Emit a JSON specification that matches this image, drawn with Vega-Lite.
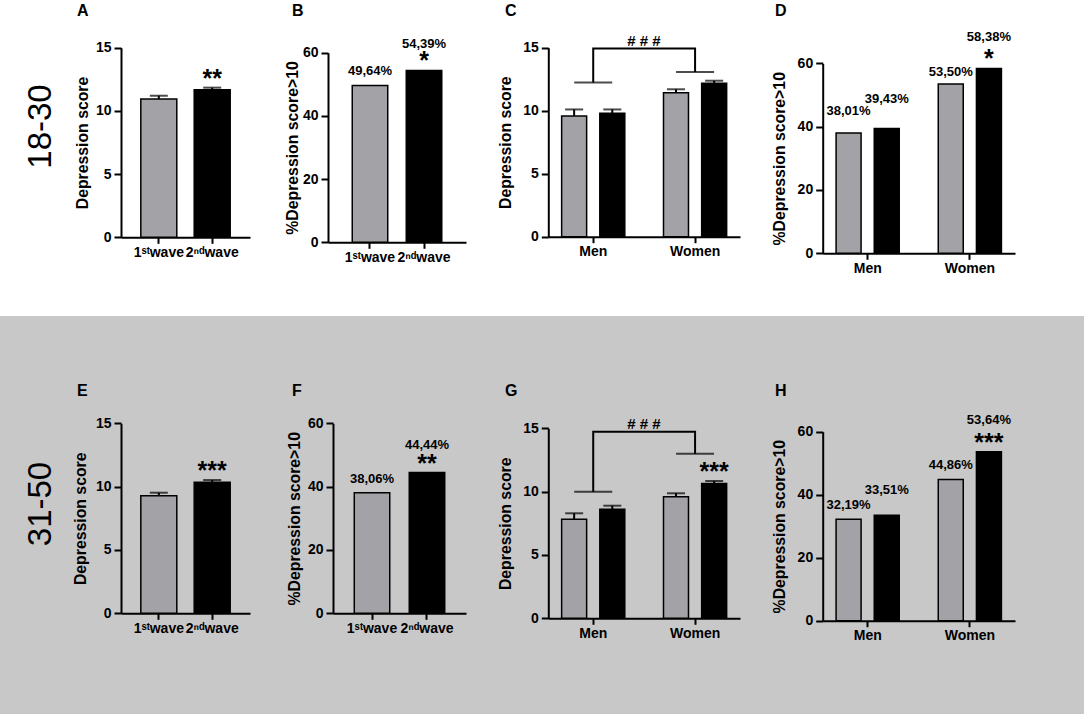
{
"$schema": "https://vega.github.io/schema/vega-lite/v6.json",
"padding": 0,
"background": "white",
"spacing": 0,
"vconcat": [
 {"spacing": 0, "bounds": "flush", "hconcat": [
  {"width": 81, "height": 316, "data": {"values": [{"age": "18-30"}]},
   "mark": {"type": "text", "angle": 270, "fontSize": 33, "font": "Liberation Sans", "fontWeight": "normal", "color": "#000", "align": "center", "baseline": "middle", "dx": 31.5},
   "encoding": {"text": {"field": "age"}}},
  {"width": 189, "height": 316, "title": {"text": "A", "offset": -19, "frame": "group", "dx": -4},
   "data": {"values": [
    {"wave": "1ˢᵗwave", "mean": 10.94, "upper": 11.2, "star": ""},
    {"wave": "2ⁿᵈwave", "mean": 11.68, "upper": 11.84, "star": "**"}
   ]},
   "encoding": {"x": {"field": "wave", "type": "nominal", "title": null, "scale": {"domain": ["1ˢᵗwave", "2ⁿᵈwave"], "range": [40, 169], "paddingInner": 0.326, "paddingOuter": 0.371}, "axis": {"offset": -78.7}}},
   "layer": [
    {"mark": {"type": "bar", "stroke": "#000", "strokeWidth": 1.5},
     "encoding": {"y": {"field": "mean", "type": "quantitative", "title": "Depression score", "scale": {"domain": [0, 15], "nice": false, "range": [237.3, 47.7]}, "axis": {"values": [0, 5, 10, 15], "titlePadding": 5, "offset": -40}},
      "fill": {"field": "wave", "type": "nominal", "scale": {"domain": ["1ˢᵗwave", "2ⁿᵈwave"], "range": ["#a3a2a7", "#000000"]}, "legend": null}}},
    {"mark": {"type": "rule", "color": "#000", "strokeWidth": 2},
     "encoding": {"y": {"field": "mean", "type": "quantitative", "title": "Depression score"}, "y2": {"field": "upper"}}},
    {"mark": {"type": "tick", "orient": "horizontal", "size": 18, "thickness": 2, "color": "#000"},
     "encoding": {"y": {"field": "upper", "type": "quantitative", "title": "Depression score"}}},
    {"mark": {"type": "text", "fontSize": 25, "fontWeight": "bold", "baseline": "alphabetic", "dy": -1, "color": "#000"},
     "encoding": {"y": {"field": "upper", "type": "quantitative", "title": "Depression score"}, "text": {"field": "star"}}}
   ]},
  {"width": 258, "height": 316, "title": {"text": "B", "offset": -19, "frame": "group", "dx": 22},
   "data": {"values": [
    {"wave": "1ˢᵗwave", "pct": 49.64, "label": "49,64%", "star": ""},
    {"wave": "2ⁿᵈwave", "pct": 54.39, "label": "54,39%", "star": "*"}
   ]},
   "encoding": {"x": {"field": "wave", "type": "nominal", "title": null, "scale": {"domain": ["1ˢᵗwave", "2ⁿᵈwave"], "range": [58, 196], "paddingInner": 0.343, "paddingOuter": 0.449}, "axis": {"offset": -73.7}}},
   "layer": [
    {"mark": {"type": "bar", "stroke": "#000", "strokeWidth": 1.5},
     "encoding": {"y": {"field": "pct", "type": "quantitative", "title": "%Depression score>10", "scale": {"domain": [0, 60], "nice": false, "range": [242.3, 52.7]}, "axis": {"values": [0, 20, 40, 60], "titlePadding": 2, "offset": -58}},
      "fill": {"field": "wave", "type": "nominal", "scale": {"domain": ["1ˢᵗwave", "2ⁿᵈwave"], "range": ["#a3a2a7", "#000000"]}, "legend": null}}},
    {"transform": [{"filter": "datum.star == ''"}],
     "mark": {"type": "text", "fontSize": 13, "fontWeight": "bold", "baseline": "alphabetic", "dy": -10, "color": "#000"},
     "encoding": {"y": {"field": "pct", "type": "quantitative", "title": "%Depression score>10"}, "text": {"field": "label"}}},
    {"transform": [{"filter": "datum.star != ''"}],
     "mark": {"type": "text", "fontSize": 13, "fontWeight": "bold", "baseline": "alphabetic", "dy": -22, "color": "#000"},
     "encoding": {"y": {"field": "pct", "type": "quantitative", "title": "%Depression score>10"}, "text": {"field": "label"}}},
    {"mark": {"type": "text", "fontSize": 25, "fontWeight": "bold", "baseline": "alphabetic", "dy": -1, "color": "#000"},
     "encoding": {"y": {"field": "pct", "type": "quantitative", "title": "%Depression score>10"}, "text": {"field": "star"}}}
   ]},
  {"width": 232, "height": 316, "title": {"text": "C", "offset": -19, "frame": "group", "dx": -23},
   "layer": [
    {"data": {"values": [
      {"sex": "Men", "wave": "1ˢᵗwave", "mean": 9.58, "upper": 10.1, "star": ""},
      {"sex": "Men", "wave": "2ⁿᵈwave", "mean": 9.79, "upper": 10.1, "star": ""},
      {"sex": "Women", "wave": "1ˢᵗwave", "mean": 11.43, "upper": 11.7, "star": ""},
      {"sex": "Women", "wave": "2ⁿᵈwave", "mean": 12.17, "upper": 12.38, "star": ""}
     ]},
     "encoding": {
      "x": {"field": "sex", "type": "nominal", "title": null, "scale": {"domain": ["Men", "Women"], "range": [20.3, 212], "paddingInner": 0.38, "paddingOuter": 0.131}, "axis": {"offset": -79.3}},
      "xOffset": {"field": "wave", "type": "nominal", "scale": {"domain": ["1ˢᵗwave", "2ⁿᵈwave"], "paddingInner": 0.345, "paddingOuter": 0}}
     },
     "layer": [
      {"mark": {"type": "bar", "stroke": "#000", "strokeWidth": 1.5},
       "encoding": {"y": {"field": "mean", "type": "quantitative", "title": "Depression score", "scale": {"domain": [0, 15], "nice": false, "range": [236.7, 47.7]}, "axis": {"values": [0, 5, 10, 15], "titlePadding": 9, "offset": -20.3}},
        "fill": {"field": "wave", "type": "nominal", "scale": {"domain": ["1ˢᵗwave", "2ⁿᵈwave"], "range": ["#a3a2a7", "#000000"]}, "legend": null}}},
      {"mark": {"type": "rule", "color": "#000", "strokeWidth": 2},
       "encoding": {"y": {"field": "mean", "type": "quantitative", "title": "Depression score"}, "y2": {"field": "upper"}}},
      {"mark": {"type": "tick", "orient": "horizontal", "size": 18, "thickness": 2, "color": "#000"},
       "encoding": {"y": {"field": "upper", "type": "quantitative", "title": "Depression score"}}}
     ]},
    {"data": {"values": [
      {"sex": "Men", "y": 12.23, "o": 1, "sig": ""},
      {"sex": "Men", "y": 14.93, "o": 2, "sig": "# # #"},
      {"sex": "Women", "y": 14.93, "o": 3, "sig": ""},
      {"sex": "Women", "y": 13.07, "o": 4, "sig": ""}
     ]},
     "layer": [
      {"mark": {"type": "line", "color": "#000", "strokeWidth": 2},
       "encoding": {"x": {"field": "sex", "type": "nominal", "title": null},
        "y": {"field": "y", "type": "quantitative", "title": "Depression score"}, "order": {"field": "o"}}},
      {"transform": [{"filter": "datum.o == 1 || datum.o == 4"}],
       "mark": {"type": "tick", "orient": "horizontal", "size": 38, "thickness": 2, "color": "#000"},
       "encoding": {"x": {"field": "sex", "type": "nominal", "title": null},
        "y": {"field": "y", "type": "quantitative", "title": "Depression score"}}},
      {"transform": [{"filter": "datum.o == 2"}],
       "mark": {"type": "text", "fontSize": 15, "fontWeight": "bold", "baseline": "alphabetic", "dy": -3, "color": "#000"},
       "encoding": {"y": {"field": "y", "type": "quantitative", "title": "Depression score"}, "text": {"field": "sig"}}}
     ]}
   ]},
  {"width": 324, "height": 316, "title": {"text": "D", "offset": -19, "frame": "group", "dx": 15},
   "data": {"values": [
    {"sex": "Men", "wave": "1ˢᵗwave", "pct": 38.01, "label": "38,01%", "star": ""},
    {"sex": "Men", "wave": "2ⁿᵈwave", "pct": 39.43, "label": "39,43%", "star": ""},
    {"sex": "Women", "wave": "1ˢᵗwave", "pct": 53.5, "label": "53,50%", "star": ""},
    {"sex": "Women", "wave": "2ⁿᵈwave", "pct": 58.38, "label": "58,38%", "star": "*"}
   ]},
   "encoding": {
    "x": {"field": "sex", "type": "nominal", "title": null, "scale": {"domain": ["Men", "Women"], "range": [62.7, 255], "paddingInner": 0.38, "paddingOuter": 0.131}, "axis": {"offset": -62.7}},
    "xOffset": {"field": "wave", "type": "nominal", "scale": {"domain": ["1ˢᵗwave", "2ⁿᵈwave"], "paddingInner": 0.345, "paddingOuter": 0}}
   },
   "layer": [
    {"mark": {"type": "bar", "stroke": "#000", "strokeWidth": 1.5},
     "encoding": {"y": {"field": "pct", "type": "quantitative", "title": "%Depression score>10", "scale": {"domain": [0, 60], "nice": false, "range": [253.3, 63.3]}, "axis": {"values": [0, 20, 40, 60], "titlePadding": 9, "offset": -62.7}},
      "fill": {"field": "wave", "type": "nominal", "scale": {"domain": ["1ˢᵗwave", "2ⁿᵈwave"], "range": ["#a3a2a7", "#000000"]}, "legend": null}}},
    {"transform": [{"filter": "datum.sex == 'Men' && datum.wave == '1ˢᵗwave'"}],
     "mark": {"type": "text", "fontSize": 13, "fontWeight": "bold", "baseline": "alphabetic", "dy": -18, "color": "#000"},
     "encoding": {"y": {"field": "pct", "type": "quantitative", "title": "%Depression score>10"}, "text": {"field": "label"}}},
    {"transform": [{"filter": "datum.sex == 'Men' && datum.wave == '2ⁿᵈwave'"}],
     "mark": {"type": "text", "fontSize": 13, "fontWeight": "bold", "baseline": "alphabetic", "dy": -25, "color": "#000"},
     "encoding": {"y": {"field": "pct", "type": "quantitative", "title": "%Depression score>10"}, "text": {"field": "label"}}},
    {"transform": [{"filter": "datum.sex == 'Women' && datum.wave == '1ˢᵗwave'"}],
     "mark": {"type": "text", "fontSize": 13, "fontWeight": "bold", "baseline": "alphabetic", "dy": -8, "color": "#000"},
     "encoding": {"y": {"field": "pct", "type": "quantitative", "title": "%Depression score>10"}, "text": {"field": "label"}}},
    {"transform": [{"filter": "datum.sex == 'Women' && datum.wave == '2ⁿᵈwave'"}],
     "mark": {"type": "text", "fontSize": 13, "fontWeight": "bold", "baseline": "alphabetic", "dy": -27, "color": "#000"},
     "encoding": {"y": {"field": "pct", "type": "quantitative", "title": "%Depression score>10"}, "text": {"field": "label"}}},
    {"mark": {"type": "text", "fontSize": 25, "fontWeight": "bold", "baseline": "alphabetic", "dy": -1, "color": "#000"},
     "encoding": {"y": {"field": "pct", "type": "quantitative", "title": "%Depression score>10"}, "text": {"field": "star"}}}
   ]}
 ]},
 {"spacing": 0, "bounds": "flush", "hconcat": [
  {"width": 81, "height": 398, "view": {"fill": "#c8c8c8"}, "data": {"values": [{"age": "31-50"}]},
   "mark": {"type": "text", "angle": 270, "fontSize": 33, "font": "Liberation Sans", "fontWeight": "normal", "color": "#000", "align": "center", "baseline": "middle", "dx": 11},
   "encoding": {"text": {"field": "age"}}},
  {"width": 189, "height": 398, "view": {"fill": "#c8c8c8"}, "title": {"text": "E", "offset": -82.5, "frame": "group", "dx": -4},
   "data": {"values": [
    {"wave": "1ˢᵗwave", "mean": 9.28, "upper": 9.52, "star": ""},
    {"wave": "2ⁿᵈwave", "mean": 10.34, "upper": 10.52, "star": "***"}
   ]},
   "encoding": {"x": {"field": "wave", "type": "nominal", "title": null, "scale": {"domain": ["1ˢᵗwave", "2ⁿᵈwave"], "range": [40, 169], "paddingInner": 0.326, "paddingOuter": 0.371}, "axis": {"offset": -100.7}}},
   "layer": [
    {"mark": {"type": "bar", "stroke": "#000", "strokeWidth": 1.5},
     "encoding": {"y": {"field": "mean", "type": "quantitative", "title": "Depression score", "scale": {"domain": [0, 15], "nice": false, "range": [297.3, 107.3]}, "axis": {"values": [0, 5, 10, 15], "titlePadding": 7, "offset": -40}},
      "fill": {"field": "wave", "type": "nominal", "scale": {"domain": ["1ˢᵗwave", "2ⁿᵈwave"], "range": ["#a3a2a7", "#000000"]}, "legend": null}}},
    {"mark": {"type": "rule", "color": "#000", "strokeWidth": 2},
     "encoding": {"y": {"field": "mean", "type": "quantitative", "title": "Depression score"}, "y2": {"field": "upper"}}},
    {"mark": {"type": "tick", "orient": "horizontal", "size": 18, "thickness": 2, "color": "#000"},
     "encoding": {"y": {"field": "upper", "type": "quantitative", "title": "Depression score"}}},
    {"mark": {"type": "text", "fontSize": 25, "fontWeight": "bold", "baseline": "alphabetic", "dy": -1, "color": "#000"},
     "encoding": {"y": {"field": "upper", "type": "quantitative", "title": "Depression score"}, "text": {"field": "star"}}}
   ]},
  {"width": 258, "height": 398, "view": {"fill": "#c8c8c8"}, "title": {"text": "F", "offset": -82.5, "frame": "group", "dx": 22},
   "data": {"values": [
    {"wave": "1ˢᵗwave", "pct": 38.06, "label": "38,06%", "star": ""},
    {"wave": "2ⁿᵈwave", "pct": 44.44, "label": "44,44%", "star": "**"}
   ]},
   "encoding": {"x": {"field": "wave", "type": "nominal", "title": null, "scale": {"domain": ["1ˢᵗwave", "2ⁿᵈwave"], "range": [63, 196], "paddingInner": 0.355, "paddingOuter": 0.387}, "axis": {"offset": -100.7}}},
   "layer": [
    {"mark": {"type": "bar", "stroke": "#000", "strokeWidth": 1.5},
     "encoding": {"y": {"field": "pct", "type": "quantitative", "title": "%Depression score>10", "scale": {"domain": [0, 60], "nice": false, "range": [297.3, 107.3]}, "axis": {"values": [0, 20, 40, 60], "titlePadding": 5, "offset": -63}},
      "fill": {"field": "wave", "type": "nominal", "scale": {"domain": ["1ˢᵗwave", "2ⁿᵈwave"], "range": ["#a3a2a7", "#000000"]}, "legend": null}}},
    {"transform": [{"filter": "datum.star == ''"}],
     "mark": {"type": "text", "fontSize": 13, "fontWeight": "bold", "baseline": "alphabetic", "dy": -10, "color": "#000"},
     "encoding": {"y": {"field": "pct", "type": "quantitative", "title": "%Depression score>10"}, "text": {"field": "label"}}},
    {"transform": [{"filter": "datum.star != ''"}],
     "mark": {"type": "text", "fontSize": 13, "fontWeight": "bold", "baseline": "alphabetic", "dy": -24, "color": "#000"},
     "encoding": {"y": {"field": "pct", "type": "quantitative", "title": "%Depression score>10"}, "text": {"field": "label"}}},
    {"mark": {"type": "text", "fontSize": 25, "fontWeight": "bold", "baseline": "alphabetic", "dy": -1, "color": "#000"},
     "encoding": {"y": {"field": "pct", "type": "quantitative", "title": "%Depression score>10"}, "text": {"field": "star"}}}
   ]},
  {"width": 232, "height": 398, "view": {"fill": "#c8c8c8"}, "title": {"text": "G", "offset": -82.5, "frame": "group", "dx": -23},
   "layer": [
    {"data": {"values": [
      {"sex": "Men", "wave": "1ˢᵗwave", "mean": 7.82, "upper": 8.29, "star": ""},
      {"sex": "Men", "wave": "2ⁿᵈwave", "mean": 8.6, "upper": 8.89, "star": ""},
      {"sex": "Women", "wave": "1ˢᵗwave", "mean": 9.6, "upper": 9.87, "star": ""},
      {"sex": "Women", "wave": "2ⁿᵈwave", "mean": 10.65, "upper": 10.84, "star": "***"}
     ]},
     "encoding": {
      "x": {"field": "sex", "type": "nominal", "title": null, "scale": {"domain": ["Men", "Women"], "range": [20.3, 212], "paddingInner": 0.38, "paddingOuter": 0.131}, "axis": {"offset": -95.7}},
      "xOffset": {"field": "wave", "type": "nominal", "scale": {"domain": ["1ˢᵗwave", "2ⁿᵈwave"], "paddingInner": 0.345, "paddingOuter": 0}}
     },
     "layer": [
      {"mark": {"type": "bar", "stroke": "#000", "strokeWidth": 1.5},
       "encoding": {"y": {"field": "mean", "type": "quantitative", "title": "Depression score", "scale": {"domain": [0, 15], "nice": false, "range": [302.3, 112.3]}, "axis": {"values": [0, 5, 10, 15], "titlePadding": 9, "offset": -20.3}},
        "fill": {"field": "wave", "type": "nominal", "scale": {"domain": ["1ˢᵗwave", "2ⁿᵈwave"], "range": ["#a3a2a7", "#000000"]}, "legend": null}}},
      {"mark": {"type": "rule", "color": "#000", "strokeWidth": 2},
       "encoding": {"y": {"field": "mean", "type": "quantitative", "title": "Depression score"}, "y2": {"field": "upper"}}},
      {"mark": {"type": "tick", "orient": "horizontal", "size": 18, "thickness": 2, "color": "#000"},
       "encoding": {"y": {"field": "upper", "type": "quantitative", "title": "Depression score"}}},
      {"mark": {"type": "text", "fontSize": 25, "fontWeight": "bold", "baseline": "alphabetic", "dy": -1, "color": "#000"},
       "encoding": {"y": {"field": "upper", "type": "quantitative", "title": "Depression score"}, "text": {"field": "star"}}}
     ]},
    {"data": {"values": [
      {"sex": "Men", "y": 10.0, "o": 1, "sig": ""},
      {"sex": "Men", "y": 14.73, "o": 2, "sig": "# # #"},
      {"sex": "Women", "y": 14.73, "o": 3, "sig": ""},
      {"sex": "Women", "y": 13.0, "o": 4, "sig": ""}
     ]},
     "layer": [
      {"mark": {"type": "line", "color": "#000", "strokeWidth": 2},
       "encoding": {"x": {"field": "sex", "type": "nominal", "title": null},
        "y": {"field": "y", "type": "quantitative", "title": "Depression score"}, "order": {"field": "o"}}},
      {"transform": [{"filter": "datum.o == 1 || datum.o == 4"}],
       "mark": {"type": "tick", "orient": "horizontal", "size": 38, "thickness": 2, "color": "#000"},
       "encoding": {"x": {"field": "sex", "type": "nominal", "title": null},
        "y": {"field": "y", "type": "quantitative", "title": "Depression score"}}},
      {"transform": [{"filter": "datum.o == 2"}],
       "mark": {"type": "text", "fontSize": 15, "fontWeight": "bold", "baseline": "alphabetic", "dy": -3, "color": "#000"},
       "encoding": {"y": {"field": "y", "type": "quantitative", "title": "Depression score"}, "text": {"field": "sig"}}}
     ]}
   ]},
  {"width": 324, "height": 398, "view": {"fill": "#c8c8c8"}, "title": {"text": "H", "offset": -82.5, "frame": "group", "dx": 15},
   "data": {"values": [
    {"sex": "Men", "wave": "1ˢᵗwave", "pct": 32.19, "label": "32,19%", "star": ""},
    {"sex": "Men", "wave": "2ⁿᵈwave", "pct": 33.51, "label": "33,51%", "star": ""},
    {"sex": "Women", "wave": "1ˢᵗwave", "pct": 44.86, "label": "44,86%", "star": ""},
    {"sex": "Women", "wave": "2ⁿᵈwave", "pct": 53.64, "label": "53,64%", "star": "***"}
   ]},
   "encoding": {
    "x": {"field": "sex", "type": "nominal", "title": null, "scale": {"domain": ["Men", "Women"], "range": [62.7, 255], "paddingInner": 0.38, "paddingOuter": 0.131}, "axis": {"offset": -93.3}},
    "xOffset": {"field": "wave", "type": "nominal", "scale": {"domain": ["1ˢᵗwave", "2ⁿᵈwave"], "paddingInner": 0.345, "paddingOuter": 0}}
   },
   "layer": [
    {"mark": {"type": "bar", "stroke": "#000", "strokeWidth": 1.5},
     "encoding": {"y": {"field": "pct", "type": "quantitative", "title": "%Depression score>10", "scale": {"domain": [0, 60], "nice": false, "range": [304.7, 115.7]}, "axis": {"values": [0, 20, 40, 60], "titlePadding": 9, "offset": -62.7}},
      "fill": {"field": "wave", "type": "nominal", "scale": {"domain": ["1ˢᵗwave", "2ⁿᵈwave"], "range": ["#a3a2a7", "#000000"]}, "legend": null}}},
    {"transform": [{"filter": "datum.sex == 'Men' && datum.wave == '1ˢᵗwave'"}],
     "mark": {"type": "text", "fontSize": 13, "fontWeight": "bold", "baseline": "alphabetic", "dy": -10, "color": "#000"},
     "encoding": {"y": {"field": "pct", "type": "quantitative", "title": "%Depression score>10"}, "text": {"field": "label"}}},
    {"transform": [{"filter": "datum.sex == 'Men' && datum.wave == '2ⁿᵈwave'"}],
     "mark": {"type": "text", "fontSize": 13, "fontWeight": "bold", "baseline": "alphabetic", "dy": -21, "color": "#000"},
     "encoding": {"y": {"field": "pct", "type": "quantitative", "title": "%Depression score>10"}, "text": {"field": "label"}}},
    {"transform": [{"filter": "datum.sex == 'Women' && datum.wave == '1ˢᵗwave'"}],
     "mark": {"type": "text", "fontSize": 13, "fontWeight": "bold", "baseline": "alphabetic", "dy": -10, "color": "#000"},
     "encoding": {"y": {"field": "pct", "type": "quantitative", "title": "%Depression score>10"}, "text": {"field": "label"}}},
    {"transform": [{"filter": "datum.sex == 'Women' && datum.wave == '2ⁿᵈwave'"}],
     "mark": {"type": "text", "fontSize": 13, "fontWeight": "bold", "baseline": "alphabetic", "dy": -28, "color": "#000"},
     "encoding": {"y": {"field": "pct", "type": "quantitative", "title": "%Depression score>10"}, "text": {"field": "label"}}},
    {"mark": {"type": "text", "fontSize": 25, "fontWeight": "bold", "baseline": "alphabetic", "dy": -1, "color": "#000"},
     "encoding": {"y": {"field": "pct", "type": "quantitative", "title": "%Depression score>10"}, "text": {"field": "star"}}}
   ]}
 ]}
],
"config": {
 "view": {"stroke": null},
 "font": "Liberation Sans",
 "axis": {"grid": false, "domainColor": "#000", "domainWidth": 2, "tickColor": "#000", "tickWidth": 2, "tickSize": 6,
  "labelColor": "#000", "labelFont": "Liberation Sans", "labelFontSize": 14, "labelFontWeight": "bold",
  "titleColor": "#000", "titleFont": "Liberation Sans", "titleFontSize": 15.8, "titleFontWeight": "bold"},
 "axisY": {"labelPadding": 3, "tickSize": 7, "minExtent": 26, "maxExtent": 26, "labelFlush": false},
 "axisX": {"labelPadding": 2, "labelAngle": 0},
 "title": {"anchor": "start", "fontSize": 16, "fontWeight": "bold", "font": "Liberation Sans", "color": "#000"},
 "text": {"color": "#000", "font": "Liberation Sans"}
}
}
